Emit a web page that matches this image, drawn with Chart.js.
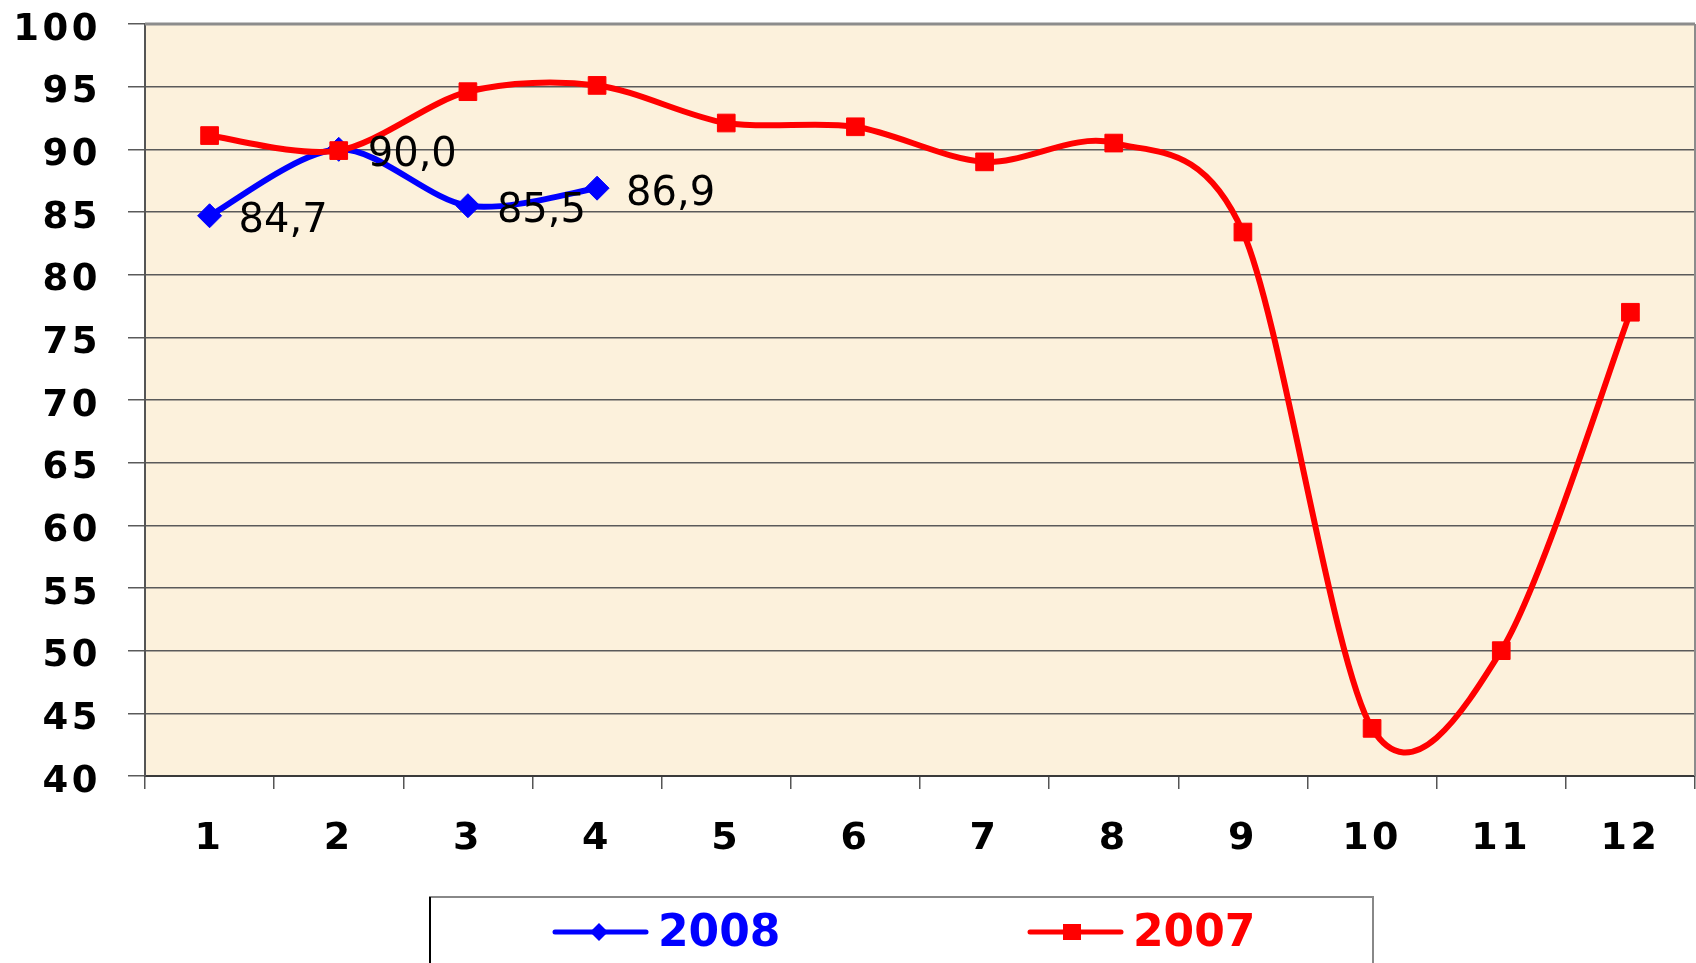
<!DOCTYPE html>
<html>
<head>
<meta charset="utf-8">
<title>2007 / 2008</title>
<script src="https://cdn.jsdelivr.net/npm/chart.js@4.4.0/dist/chart.umd.min.js"></script>
<style>
    html, body { margin: 0; padding: 0; background: #ffffff; }
    #wrap { width: 1696px; height: 963px; position: relative; }
</style>
</head>
<body>
<div id="wrap"><canvas id="lineChart" width="1696" height="963"></canvas></div>
<script>
// Chart data
const months = ['1', '2', '3', '4', '5', '6', '7', '8', '9', '10', '11', '12'];
const values2008 = [84.7, 90.0, 85.5, 86.9];
const values2007 = [91.1, 89.9, 94.6, 95.1, 92.1, 91.8, 89.0, 90.5, 83.4, 43.8, 50.0, 77.0];
const yMin = 40;
const yMax = 100;
const yStep = 5;

document.addEventListener('DOMContentLoaded', function() {
    const font = 'DejaVu Sans';

    // plot background, Excel-like smoothing, labels, frame and legend
    const chartExtras = {
        id: 'chartExtras',
        beforeDraw(chart) {
            const { ctx, chartArea: a } = chart;
            ctx.save();
            ctx.fillStyle = '#fcf1dc';
            ctx.fillRect(a.left, a.top, a.right - a.left, a.bottom - a.top);
            ctx.restore();
            // wider spacing for the axis numbers
            ctx.letterSpacing = '3.5px';
        },
        beforeDatasetsDraw(chart) {
            // uniform Catmull-Rom handles, like Excel's smoothed line
            chart.data.datasets.forEach((ds, i) => {
                const meta = chart.getDatasetMeta(i);
                meta.dataset.updateControlPoints(chart.chartArea, 'x');
                const pts = meta.data;
                pts.forEach((p, j) => {
                    const prev = pts[j - 1] || p;
                    const next = pts[j + 1] || p;
                    const dx = (next.x - prev.x) / 6.5;
                    const dy = (next.y - prev.y) / 6.5;
                    p.cp1x = p.x - dx;
                    p.cp1y = p.y - dy;
                    p.cp2x = p.x + dx;
                    p.cp2y = p.y + dy;
                });
            });
        },
        afterDatasetsDraw(chart) {
            const { ctx, chartArea: a } = chart;
            ctx.save();
            ctx.letterSpacing = '0px';
            // plot frame: top and right
            ctx.strokeStyle = '#8c8c8c';
            ctx.lineWidth = 3;
            ctx.beginPath();
            ctx.moveTo(a.left, a.top);
            ctx.lineTo(a.right, a.top);
            ctx.stroke();
            ctx.lineWidth = 2;
            ctx.beginPath();
            ctx.moveTo(a.right, a.top);
            ctx.lineTo(a.right, a.bottom);
            ctx.stroke();

            // value labels for 2008, placed right of the points
            const meta = chart.getDatasetMeta(1);
            ctx.font = '40px "' + font + '"';
            ctx.fillStyle = '#000000';
            ctx.textAlign = 'left';
            ctx.textBaseline = 'middle';
            meta.data.forEach((pt, i) => {
                const txt = values2008[i].toFixed(1).replace('.', ',');
                ctx.fillText(txt, pt.x + 29, pt.y + 6);
            });
            ctx.restore();
        },
        afterDraw(chart) {
            const { ctx } = chart;
            ctx.save();
            ctx.letterSpacing = '0px';
            // legend box (runs off the bottom edge)
            ctx.lineWidth = 2;
            ctx.strokeStyle = '#888888';
            ctx.beginPath();
            ctx.moveTo(429, 897);
            ctx.lineTo(1373, 897);
            ctx.lineTo(1373, 970);
            ctx.stroke();
            ctx.strokeStyle = '#000000';
            ctx.beginPath();
            ctx.moveTo(430, 897);
            ctx.lineTo(430, 970);
            ctx.stroke();

            const items = [
                { ds: chart.data.datasets[1], x: 555, style: 'diamond' },
                { ds: chart.data.datasets[0], x: 1030, style: 'square' }
            ];
            const y = 932;
            items.forEach(item => {
                const c = item.ds.borderColor;
                ctx.strokeStyle = c;
                ctx.fillStyle = c;
                ctx.lineWidth = 5;
                ctx.lineCap = 'round';
                ctx.beginPath();
                ctx.moveTo(item.x, y);
                ctx.lineTo(item.x + 91, y);
                ctx.stroke();
                const cx = item.x + (item.style === 'diamond' ? 44 : 42);
                ctx.beginPath();
                if (item.style === 'diamond') {
                    ctx.moveTo(cx, y - 9);
                    ctx.lineTo(cx + 9, y);
                    ctx.lineTo(cx, y + 9);
                    ctx.lineTo(cx - 9, y);
                } else {
                    ctx.rect(cx - 9, y - 8, 18, 16);
                }
                ctx.closePath();
                ctx.fill();
                ctx.font = 'bold 44px "' + font + '"';
                ctx.textAlign = 'left';
                ctx.textBaseline = 'middle';
                ctx.fillText(item.ds.label, item.x + 103, y + 3);
            });
            ctx.restore();
        }
    };

    const ctx = document.getElementById('lineChart').getContext('2d');
    const lineChart = new Chart(ctx, {
        type: 'line',
        data: {
            labels: months,
            datasets: [{
                label: '2007',
                data: values2007,
                borderColor: '#ff0000',
                backgroundColor: '#ff0000',
                borderWidth: 6,
                tension: 0.4,
                pointStyle: 'rect',
                pointRadius: 12.5,
                pointBorderWidth: 1,
                order: 0
            }, {
                label: '2008',
                data: values2008,
                borderColor: '#0000ff',
                backgroundColor: '#0000ff',
                borderWidth: 6,
                tension: 0.4,
                pointStyle: 'rectRot',
                pointRadius: 12,
                pointBorderWidth: 1,
                order: 1
            }]
        },
        options: {
            responsive: false,
            animation: false,
            layout: {
                autoPadding: false,
                padding: { top: 24, right: 1, left: 0, bottom: 0 }
            },
            plugins: {
                legend: { display: false },
                tooltip: { enabled: false }
            },
            scales: {
                x: {
                    offset: true,
                    grid: {
                        offset: true,
                        drawOnChartArea: false,
                        color: '#555555',
                        lineWidth: 1.5,
                        tickLength: 13
                    },
                    border: { color: '#3a3a3a', width: 2 },
                    ticks: {
                        color: '#000000',
                        padding: 27,
                        font: { family: font, size: 38, weight: 'bold' }
                    },
                    afterFit(scale) {
                        scale.height = 187;
                        scale.paddingLeft = 0;
                        scale.paddingRight = 0;
                    }
                },
                y: {
                    min: yMin,
                    max: yMax,
                    grid: {
                        color: '#5a5a5a',
                        lineWidth: 1.5,
                        tickLength: 17
                    },
                    border: { color: '#555555', width: 2 },
                    ticks: {
                        stepSize: yStep,
                        color: '#000000',
                        padding: 27,
                        labelOffset: 6,
                        font: { family: font, size: 37, weight: 'bold' }
                    },
                    afterFit(scale) {
                        scale.width = 145;
                        scale.paddingTop = 0;
                        scale.paddingBottom = 0;
                    }
                }
            }
        },
        plugins: [chartExtras]
    });
});
</script>
</body>
</html>
